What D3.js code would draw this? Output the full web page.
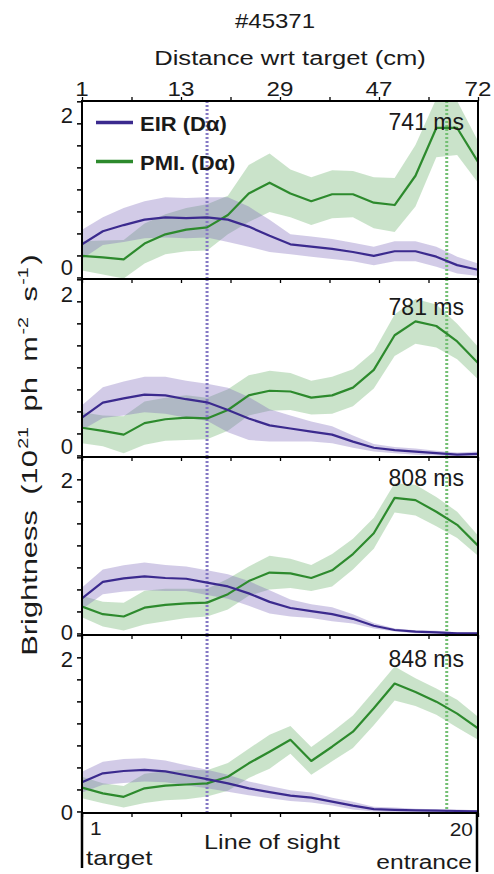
<!DOCTYPE html>
<html>
<head>
<meta charset="utf-8">
<script src="https://cdn.jsdelivr.net/npm/d3@7"></script>
<style>
  html, body { margin: 0; padding: 0; background: #fff; }
  svg text { font-family: "Liberation Sans", Arial, sans-serif; fill: #1a1a1a; }
</style>
</head>
<body>
<svg id="chart" width="494" height="874"></svg>
<script>
// ---------------- data ----------------
const shotLabel = "#45371";
const topAxisTitle = "Distance wrt target (cm)";
const topTickLabels = ["1", "13", "29", "47", "72"];
const losIndex = d3.range(1, 21);           // line of sight 1..20
const times = ["741 ms", "781 ms", "808 ms", "848 ms"];
const seriesNames = ["EIR (D\u03b1)", "PMI. (D\u03b1)"];
const markerLOS = [7, 18.5];                // dotted vertical markers (EIR, PMI)
const yTickLabels = [0, 2];

const eir = [
  [0.43,0.60,0.68,0.75,0.78,0.77,0.78,0.75,0.66,0.54,0.43,0.40,0.37,0.33,0.28,0.34,0.34,0.27,0.16,0.10],
  [0.49,0.685,0.74,0.79,0.78,0.73,0.69,0.59,0.48,0.39,0.35,0.31,0.27,0.18,0.10,0.07,0.05,0.03,0.01,0.02],
  [0.455,0.67,0.715,0.74,0.72,0.71,0.66,0.61,0.52,0.41,0.33,0.29,0.25,0.19,0.10,0.045,0.023,0.015,0.0,0.0],
  [0.38,0.495,0.525,0.54,0.52,0.47,0.42,0.365,0.30,0.25,0.205,0.18,0.127,0.075,0.03,0.02,0.015,0.01,0.006,0.0]
];
const eirErr = [
  [0.19,0.18,0.22,0.24,0.26,0.26,0.26,0.29,0.26,0.21,0.13,0.13,0.13,0.12,0.12,0.13,0.13,0.13,0.11,0.08],
  [0.16,0.20,0.22,0.23,0.24,0.24,0.24,0.29,0.28,0.21,0.17,0.13,0.11,0.08,0.05,0.04,0.04,0.03,0.03,0.03],
  [0.14,0.16,0.17,0.18,0.17,0.16,0.16,0.16,0.16,0.15,0.11,0.09,0.09,0.06,0.035,0.02,0.02,0.02,0.015,0.01],
  [0.135,0.15,0.155,0.15,0.14,0.13,0.12,0.11,0.09,0.08,0.07,0.065,0.05,0.05,0.03,0.03,0.02,0.02,0.02,0.015]
];
const pmi = [
  [0.28,0.26,0.235,0.44,0.56,0.62,0.65,0.81,1.09,1.23,1.09,0.99,1.08,1.08,0.97,0.94,1.32,1.94,1.94,1.50],
  [0.36,0.32,0.27,0.42,0.47,0.49,0.48,0.59,0.78,0.84,0.83,0.75,0.78,0.88,1.11,1.56,1.74,1.68,1.48,1.20],
  [0.35,0.25,0.22,0.335,0.37,0.39,0.40,0.51,0.68,0.79,0.78,0.72,0.82,1.03,1.30,1.76,1.73,1.58,1.41,1.14],
  [0.31,0.235,0.19,0.30,0.335,0.35,0.365,0.45,0.625,0.775,0.93,0.655,0.84,1.035,1.34,1.66,1.55,1.425,1.27,1.08]
];
const pmiErr = [
  [0.19,0.22,0.25,0.26,0.26,0.28,0.30,0.25,0.37,0.38,0.31,0.31,0.31,0.30,0.33,0.35,0.40,0.38,0.35,0.27],
  [0.20,0.20,0.24,0.28,0.28,0.29,0.27,0.27,0.26,0.26,0.24,0.22,0.24,0.24,0.24,0.27,0.29,0.28,0.23,0.21],
  [0.14,0.16,0.18,0.22,0.21,0.19,0.18,0.20,0.19,0.22,0.19,0.17,0.21,0.20,0.20,0.19,0.20,0.19,0.17,0.13],
  [0.14,0.13,0.14,0.19,0.19,0.19,0.17,0.18,0.19,0.22,0.18,0.18,0.19,0.21,0.22,0.22,0.18,0.17,0.18,0.15]
];

// ---------------- layout ----------------
const left = 82, right = 478, top0 = 101, ph = 178;
const nPanels = times.length;
const bottomAll = top0 + nPanels * ph;
const yDomain = [-0.02, 2.29];
const yTickVals = d3.range(9).map(k => k * 2 / 7);
const xTickVals = d3.range(9).map(k => 1 + k * 19 / 8);

const colEIR = "#3b2a8e", colPMI = "#2d8a2d";
const fillEIR = "#7a66b8", fillPMI = "#4ea24e";

const svg = d3.select("#chart");
const x = d3.scaleLinear().domain([1, 20]).range([left, right]);

function stext(g, px, py, str, o) {
  const t = g.append("text")
    .attr("transform", `translate(${px},${py}) scale(${o.sx || 1},1)`)
    .attr("text-anchor", o.anchor || "start")
    .style("font-size", o.size + "px")
    .style("font-weight", o.weight || "normal")
    .text(str);
  return t;
}

// Titles
stext(svg, 275, 28, shotLabel, {size: 20, anchor: "middle", sx: 1.2});
stext(svg, 290, 65, topAxisTitle, {size: 20, anchor: "middle", sx: 1.28});

// defs for clipping
const defs = svg.append("defs");

for (let p = 0; p < nPanels; p++) {
  const top = top0 + p * ph, bot = top + ph;
  const y = d3.scaleLinear().domain(yDomain).range([bot, top]);
  const g = svg.append("g");

  defs.append("clipPath").attr("id", "clip" + p)
    .append("rect").attr("x", left).attr("y", top).attr("width", right - left).attr("height", ph);
  const plot = g.append("g").attr("clip-path", `url(#clip${p})`);

  const area = (vals, err) => d3.area()
    .x((d, i) => x(losIndex[i]))
    .y0((d, i) => y(vals[i] - err[i]))
    .y1((d, i) => y(vals[i] + err[i]))(vals);
  const line = vals => d3.line().x((d, i) => x(losIndex[i])).y(d => y(d))(vals);

  plot.append("path").attr("d", area(pmi[p], pmiErr[p]))
    .attr("fill", fillPMI).attr("fill-opacity", 0.3);
  plot.append("path").attr("d", area(eir[p], eirErr[p]))
    .attr("fill", fillEIR).attr("fill-opacity", 0.34);

  // dotted markers
  plot.append("line").attr("x1", x(markerLOS[0])).attr("x2", x(markerLOS[0]))
    .attr("y1", top).attr("y2", bot)
    .attr("stroke", "#8478c4").attr("stroke-width", 3).attr("stroke-dasharray", "2,2");
  plot.append("line").attr("x1", x(markerLOS[1])).attr("x2", x(markerLOS[1]))
    .attr("y1", top).attr("y2", bot)
    .attr("stroke", "#74bf74").attr("stroke-width", 3).attr("stroke-dasharray", "2,2");

  plot.append("path").attr("d", line(pmi[p])).attr("fill", "none")
    .attr("stroke", colPMI).attr("stroke-width", 2.2).attr("stroke-linejoin", "round");
  plot.append("path").attr("d", line(eir[p])).attr("fill", "none")
    .attr("stroke", colEIR).attr("stroke-width", 2.2).attr("stroke-linejoin", "round");

  // left axis ticks
  const ax = g.append("g").attr("transform", `translate(${left},0)`)
    .call(d3.axisLeft(y).tickValues(yTickVals).tickSize(5).tickFormat(""));
  ax.select(".domain").remove();
  ax.selectAll("line").attr("stroke", "#000").attr("stroke-width", 1.5);

  // y tick labels
  const labShift2 = [-8, -7, 1, 2][p];
  const labShift0 = [-10, -9, -1, 1][p];
  yTickLabels.forEach(v => {
    const sh = v === 0 ? labShift0 : labShift2;
    stext(g, 73, y(v) + sh + 8, String(v), {size: 22, anchor: "end"});
  });

  // bottom ticks for each panel
  const bx = g.append("g").attr("transform", `translate(0,${bot})`)
    .call(d3.axisBottom(x).tickValues(xTickVals).tickSize(4).tickFormat(""));
  bx.select(".domain").remove();
  bx.selectAll("line").attr("stroke", "#000").attr("stroke-width", 1.3);

  // frame
  g.append("rect").attr("x", left).attr("y", top).attr("width", right - left).attr("height", ph)
    .attr("fill", "none").attr("stroke", "#000").attr("stroke-width", 2);

  // time label
  const tBase = [29, 36, 29, 32][p];
  stext(g, 464, top + tBase, times[p], {size: 23, anchor: "end"});
}

// top axis
const tx = svg.append("g").attr("transform", `translate(0,${top0})`)
  .call(d3.axisTop(x).tickValues(xTickVals).tickSize(4).tickFormat(""));
tx.select(".domain").remove();
tx.selectAll("line").attr("stroke", "#000").attr("stroke-width", 1.3);
topTickLabels.forEach((lab, i) => {
  stext(svg, x(xTickVals[i * 2]), 96, lab, {size: 21, anchor: "middle", sx: 1.15});
});

// legend
const leg = svg.append("g");
[[colEIR, 122.5, 130.5], [colPMI, 161.5, 169.5]].forEach((c, i) => {
  leg.append("line").attr("x1", 96).attr("x2", 133).attr("y1", c[1]).attr("y2", c[1])
    .attr("stroke", c[0]).attr("stroke-width", 3.5);
  stext(leg, 140, c[2], seriesNames[i], {size: 20, weight: "bold", sx: 1.1});
});

// bottom line-of-sight annotations
svg.append("line").attr("x1", left).attr("x2", left).attr("y1", bottomAll).attr("y2", 868)
  .attr("stroke", "#000").attr("stroke-width", 2.5);
svg.append("line").attr("x1", right - 1).attr("x2", right - 1).attr("y1", bottomAll).attr("y2", 872)
  .attr("stroke", "#000").attr("stroke-width", 2.5);
stext(svg, 90, 835, String(losIndex[0]), {size: 19, anchor: "start", sx: 1.1});
stext(svg, 473, 836, String(losIndex[losIndex.length - 1]), {size: 19, anchor: "end", sx: 1.1});
stext(svg, 272, 849, "Line of sight", {size: 20, anchor: "middle", sx: 1.26});
stext(svg, 86, 865, "target", {size: 20, anchor: "start", sx: 1.3});
stext(svg, 472, 869, "entrance", {size: 20, anchor: "end", sx: 1.23});

// y axis title
const yt = svg.append("text")
  .attr("transform", "translate(37,455) rotate(-90) scale(1.4,1)")
  .attr("text-anchor", "middle")
  .style("font-size", "22px")
  .style("word-spacing", "5px");
yt.append("tspan").text("Brightness (10");
yt.append("tspan").attr("dy", -9).attr("dx", 1).style("font-size", "14px").text("21");
yt.append("tspan").attr("dy", 9).text(" ph m");
yt.append("tspan").attr("dy", -9).attr("dx", 1).style("font-size", "14px").text("-2");
yt.append("tspan").attr("dy", 9).text(" s");
yt.append("tspan").attr("dy", -9).attr("dx", 1).style("font-size", "14px").text("-1");
yt.append("tspan").attr("dy", 9).attr("dx", 2).text(")");
</script>
</body>
</html>
